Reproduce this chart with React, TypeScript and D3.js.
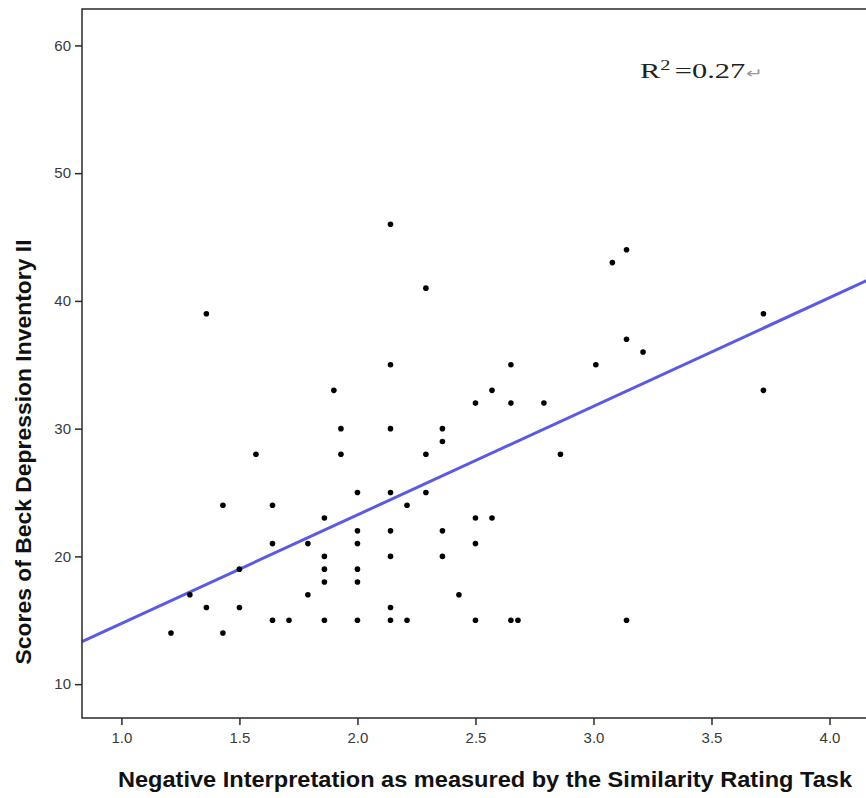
import React, { useEffect, useRef } from 'react';
import * as d3 from 'd3';

// negative interpretation score (x) and BDI-II score (y), one entry per participant
const interpretationScores = [
  1.21, 1.29, 1.36, 1.36, 1.43, 1.43, 1.50, 1.50, 1.57,
  1.64, 1.64, 1.64, 1.71, 1.79, 1.79,
  1.86, 1.86, 1.86, 1.86, 1.86, 1.90, 1.93, 1.93,
  2.00, 2.00, 2.00, 2.00, 2.00, 2.00,
  2.14, 2.14, 2.14, 2.14, 2.14, 2.14, 2.14, 2.14,
  2.21, 2.21, 2.29, 2.29, 2.29, 2.36, 2.36, 2.36, 2.36, 2.43,
  2.50, 2.50, 2.50, 2.50, 2.57, 2.57, 2.65, 2.65, 2.65, 2.68,
  2.79, 2.86, 3.01, 3.08, 3.14, 3.14, 3.14, 3.21, 3.72, 3.72,
];
const depressionScores = [
  14, 17, 39, 16, 24, 14, 19, 16, 28,
  24, 21, 15, 15, 21, 17,
  23, 20, 19, 18, 15, 33, 30, 28,
  25, 22, 21, 19, 18, 15,
  46, 35, 30, 25, 22, 20, 16, 15,
  24, 15, 41, 28, 25, 30, 29, 22, 20, 17,
  32, 23, 21, 15, 33, 23, 35, 32, 15, 15,
  32, 28, 35, 43, 44, 37, 15, 36, 39, 33,
];

const xTicks = [1.0, 1.5, 2.0, 2.5, 3.0, 3.5, 4.0];
const yTicks = [10, 20, 30, 40, 50, 60];

// fit line as printed on the chart
const fitIntercept = 6.25;
const fitSlope = 8.5;
const rSquared = '0.27';

const xTitle = 'Negative Interpretation as measured by the Similarity Rating Task';
const yTitle = 'Scores of Beck Depression Inventory II';

export default function App() {
  const ref = useRef<SVGSVGElement>(null);

  useEffect(() => {
    const svg = d3.select(ref.current);
    svg.selectAll('*').remove();

    const left = 82, top = 9, right = 872, bottom = 718;

    const x = d3.scaleLinear().domain([0.833, 4.18]).range([left, right]);
    const y = d3.scaleLinear().domain([7.35, 62.85]).range([bottom, top]);

    svg.append('rect')
      .attr('width', 866).attr('height', 798)
      .attr('fill', '#fff');

    // fit line
    const xd = x.domain();
    svg.append('line')
      .attr('x1', x(xd[0])).attr('y1', y(fitIntercept + fitSlope * xd[0]))
      .attr('x2', x(xd[1])).attr('y2', y(fitIntercept + fitSlope * xd[1]))
      .attr('stroke', '#5a5ae4')
      .attr('stroke-width', 3);

    // points
    svg.append('g')
      .selectAll('circle')
      .data(interpretationScores)
      .enter()
      .append('circle')
      .attr('cx', d => x(d))
      .attr('cy', (d, i) => y(depressionScores[i]))
      .attr('r', 2.8)
      .attr('fill', '#000');

    // frame
    svg.append('rect')
      .attr('x', left).attr('y', top)
      .attr('width', right - left).attr('height', bottom - top)
      .attr('fill', 'none')
      .attr('stroke', '#2a2a2a')
      .attr('stroke-width', 1.5);

    const xAxis = d3.axisBottom(x)
      .tickValues(xTicks)
      .tickFormat(d3.format('.1f'))
      .tickSize(7)
      .tickPadding(7)
      .tickSizeOuter(0);

    const yAxis = d3.axisLeft(y)
      .tickValues(yTicks)
      .tickFormat(d3.format('d'))
      .tickSize(7)
      .tickPadding(4)
      .tickSizeOuter(0);

    [svg.append('g').attr('transform', `translate(0,${bottom})`).call(xAxis),
     svg.append('g').attr('transform', `translate(${left},0)`).call(yAxis)]
      .forEach(ax => {
        ax.select('.domain').remove();
        ax.selectAll('line').attr('stroke', '#2a2a2a').attr('stroke-width', 1.5);
        ax.selectAll('text')
          .attr('font-family', '"Liberation Sans", Arial, sans-serif')
          .attr('font-size', 15)
          .attr('fill', '#3a3a3a');
      });

    // axis titles
    svg.append('text')
      .attr('x', 485).attr('y', 787)
      .attr('text-anchor', 'middle')
      .attr('font-family', '"Liberation Sans", Arial, sans-serif')
      .attr('font-weight', 'bold')
      .attr('font-size', 22.5)
      .attr('textLength', 734)
      .attr('lengthAdjust', 'spacingAndGlyphs')
      .attr('fill', '#111')
      .text(xTitle);

    svg.append('text')
      .attr('transform', 'translate(31,452) rotate(-90)')
      .attr('text-anchor', 'middle')
      .attr('font-family', '"Liberation Sans", Arial, sans-serif')
      .attr('font-weight', 'bold')
      .attr('font-size', 22.5)
      .attr('textLength', 425)
      .attr('lengthAdjust', 'spacingAndGlyphs')
      .attr('fill', '#111')
      .text(yTitle);

    // R squared note
    const note = svg.append('text')
      .attr('transform', 'translate(640,78) scale(1.45,1)')
      .attr('font-family', '"Liberation Serif", "Times New Roman", serif')
      .attr('font-size', 21)
      .attr('fill', '#222');
    note.append('tspan').text('R');
    note.append('tspan').attr('font-size', 14).attr('dy', -8).text('2');
    note.append('tspan').attr('dy', 8).attr('dx', 3).text('=' + rSquared);
    note.append('tspan').attr('font-size', 14).attr('fill', '#999').attr('dx', 0.5).text('\u21b5');
  }, []);

  return (
    <svg ref={ref} width={866} height={798}
      style={{ position: 'absolute', left: 0, top: 0, display: 'block' }} />
  );
}
